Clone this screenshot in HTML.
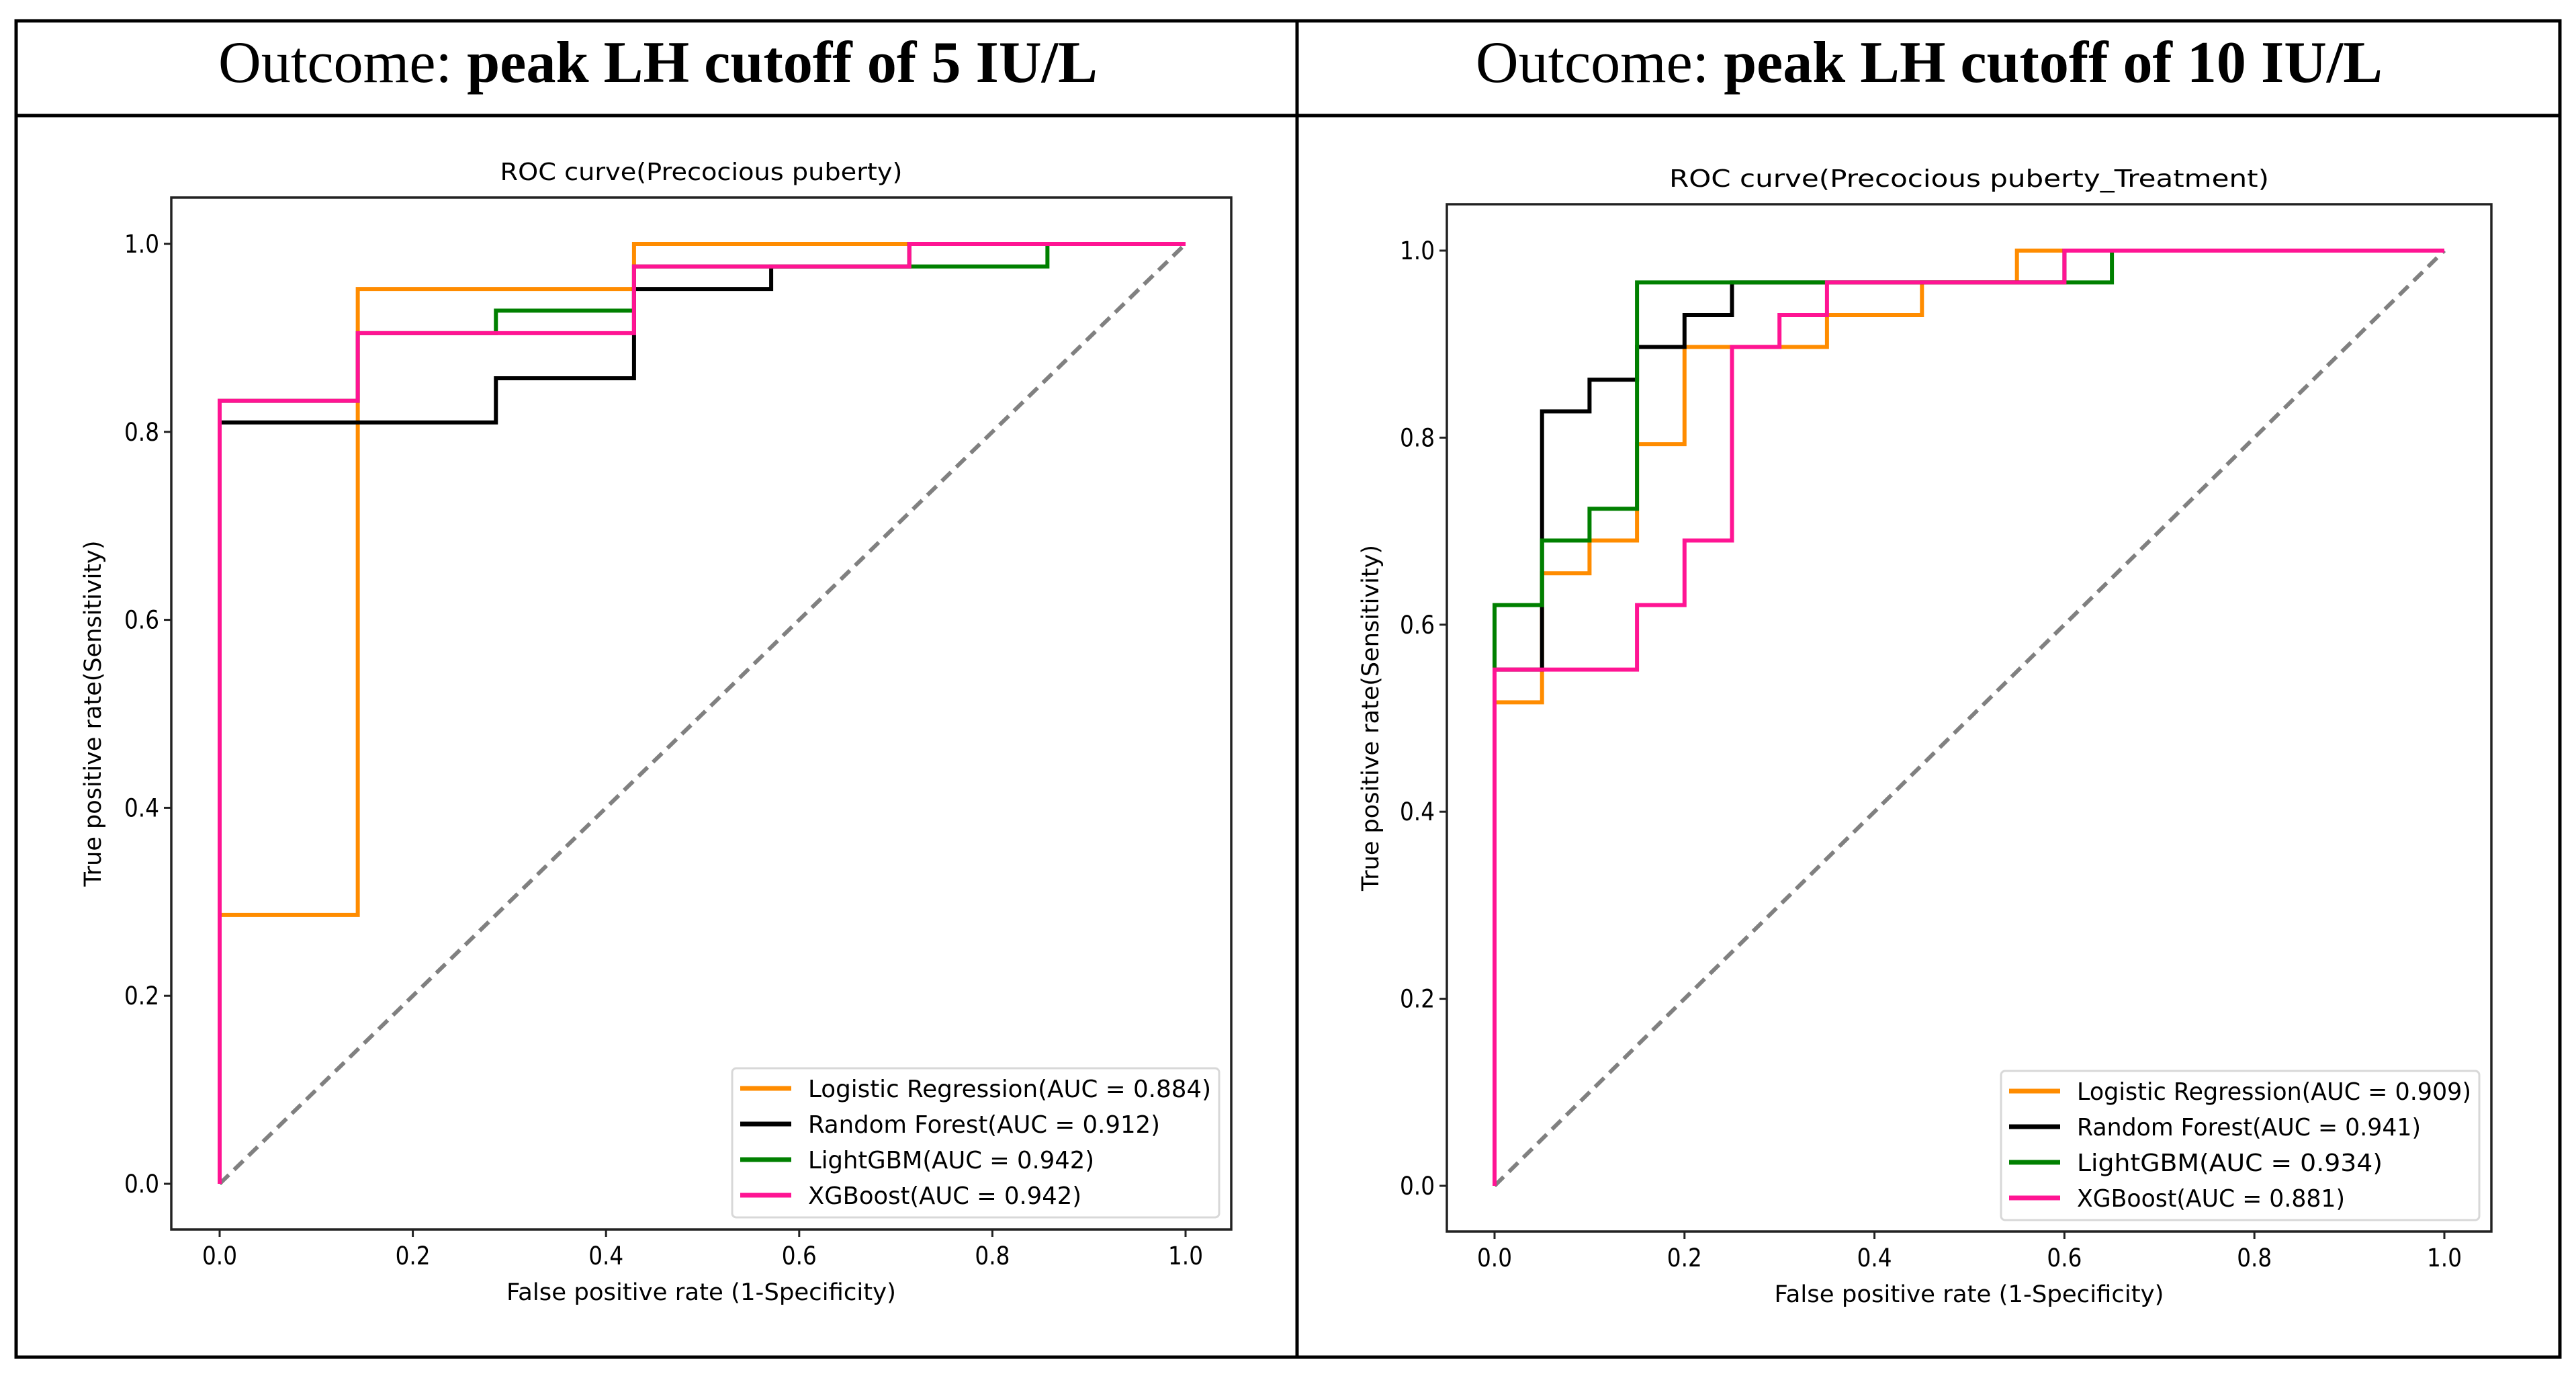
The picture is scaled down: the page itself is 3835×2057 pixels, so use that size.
<!DOCTYPE html>
<html><head><meta charset="utf-8"><style>
html,body{margin:0;padding:0;background:#fff;}
svg{display:block;}
</style></head><body>
<svg id="fig" width="3835" height="2057" viewBox="0 0 3835 2057" xmlns="http://www.w3.org/2000/svg">
<rect x="0" y="0" width="3835" height="2057" fill="#fff"/>
<g stroke="#000" stroke-width="5" fill="none">
<rect x="24" y="31" width="3787" height="1989"/>
<line x1="24" y1="172" x2="3811" y2="172"/>
<line x1="1931" y1="31" x2="1931" y2="2020"/>
</g>
<text x="325" y="122" font-family="Liberation Serif, serif" font-size="88" textLength="1309" lengthAdjust="spacingAndGlyphs">Outcome: <tspan font-weight="bold">peak LH cutoff of 5 IU/L</tspan></text>
<text x="2197" y="122" font-family="Liberation Serif, serif" font-size="88" textLength="1350" lengthAdjust="spacingAndGlyphs">Outcome: <tspan font-weight="bold">peak LH cutoff of 10 IU/L</tspan></text>
<g id="c1"></g>
<g id="c2"></g>
</svg>
<script>
// Left chart data
const leftLRx=[0,0,0.143,0.143,0.429,0.429,1];
const leftLRy=[0,0.286,0.286,0.952,0.952,1,1];
const leftRFx=[0,0,0.286,0.286,0.429,0.429,0.571,0.571,0.714,0.714,1];
const leftRFy=[0,0.81,0.81,0.857,0.857,0.952,0.952,0.976,0.976,1,1];
const leftGBx=[0,0,0.143,0.143,0.286,0.286,0.429,0.429,0.857,0.857,1];
const leftGBy=[0,0.833,0.833,0.905,0.905,0.929,0.929,0.976,0.976,1,1];
const leftXGx=[0,0,0.143,0.143,0.429,0.429,0.714,0.714,1];
const leftXGy=[0,0.833,0.833,0.905,0.905,0.976,0.976,1,1];
const leftLabels=["Logistic Regression(AUC = 0.884)","Random Forest(AUC = 0.912)","LightGBM(AUC = 0.942)","XGBoost(AUC = 0.942)"];
// Right chart data
const rightLRx=[0,0,0.05,0.05,0.1,0.1,0.15,0.15,0.2,0.2,0.35,0.35,0.45,0.45,0.55,0.55,1];
const rightLRy=[0,0.517,0.517,0.655,0.655,0.69,0.69,0.793,0.793,0.897,0.897,0.931,0.931,0.966,0.966,1,1];
const rightRFx=[0,0,0.05,0.05,0.1,0.1,0.15,0.15,0.2,0.2,0.25,0.25,0.6,0.6,1];
const rightRFy=[0,0.552,0.552,0.828,0.828,0.862,0.862,0.897,0.897,0.931,0.931,0.966,0.966,1,1];
const rightGBx=[0,0,0.05,0.05,0.1,0.1,0.15,0.15,0.65,0.65,1];
const rightGBy=[0,0.621,0.621,0.69,0.69,0.724,0.724,0.966,0.966,1,1];
const rightXGx=[0,0,0.15,0.15,0.2,0.2,0.25,0.25,0.3,0.3,0.35,0.35,0.6,0.6,1];
const rightXGy=[0,0.552,0.552,0.621,0.621,0.69,0.69,0.897,0.897,0.931,0.931,0.966,0.966,1,1];
const rightLabels=["Logistic Regression(AUC = 0.909)","Random Forest(AUC = 0.941)","LightGBM(AUC = 0.934)","XGBoost(AUC = 0.881)"];
const tickVals=[0,0.2,0.4,0.6,0.8,1.0];
const tickLabels=["0.0","0.2","0.4","0.6","0.8","1.0"];
const colors=["#ff8c00","#000000","#008000","#ff1493"];
const NS="http://www.w3.org/2000/svg";
function mk(p,t,a){const e=document.createElementNS(NS,t);for(const k in a)e.setAttribute(k,a[k]);p.appendChild(e);return e;}
function draw(g,cfg){
  const X=v=>cfg.x0+(cfg.x1-cfg.x0)*v, Y=v=>cfg.y0+(cfg.y1-cfg.y0)*v;
  const F="DejaVu Sans, Liberation Sans, sans-serif";
  const t=mk(g,'text',{x:(cfg.L+cfg.R)/2,y:cfg.titleY,'text-anchor':'middle','font-family':F,'font-size':36,textLength:cfg.titleW,lengthAdjust:'spacingAndGlyphs'});
  
  
  t.textContent=cfg.title;
  const d=mk(g,'line',{x1:X(0),y1:Y(0),x2:X(1),y2:Y(1),stroke:'#808080','stroke-width':6,'stroke-dasharray':'19,11'});
  
  
  cfg.series.forEach((s,i)=>{
    const pts=s[0].map((v,j)=>X(v)+','+Y(s[1][j])).join(' ');
    const p=mk(g,'polyline',{points:pts,fill:'none',stroke:colors[i],'stroke-width':6,'stroke-linejoin':'miter'});
    
    
  });
  const fr=mk(g,'rect',{x:cfg.L,y:cfg.T,width:cfg.R-cfg.L,height:cfg.B-cfg.T,fill:'none',stroke:'#222','stroke-width':3.5});
  
  
  tickVals.forEach((v,i)=>{
    mk(g,'line',{x1:X(v),y1:cfg.B,x2:X(v),y2:cfg.B+11,stroke:'#222','stroke-width':3});
    const tx=mk(g,'text',{x:X(v),y:cfg.B+52,'text-anchor':'middle','font-family':F,'font-size':37,textLength:52,lengthAdjust:'spacingAndGlyphs'});
    
    
    tx.textContent=tickLabels[i];
    mk(g,'line',{x1:cfg.L,y1:Y(v),x2:cfg.L-11,y2:Y(v),stroke:'#222','stroke-width':3});
    const ty=mk(g,'text',{x:cfg.L-18,y:Y(v)+13,'text-anchor':'end','font-family':F,'font-size':37,textLength:52,lengthAdjust:'spacingAndGlyphs'});
    
    
    ty.textContent=tickLabels[i];
  });
  const xl=mk(g,'text',{x:(cfg.L+cfg.R)/2,y:cfg.xlY,'text-anchor':'middle','font-family':F,'font-size':35,textLength:580,lengthAdjust:'spacingAndGlyphs'});
  
  
  xl.textContent='False positive rate (1-Specificity)';
  const yl=mk(g,'text',{x:0,y:0,'text-anchor':'middle','font-family':F,'font-size':35,textLength:515,lengthAdjust:'spacingAndGlyphs',transform:`translate(${cfg.ylX},${(cfg.T+cfg.B)/2}) rotate(-90)`});
  
  
  yl.textContent='True positive rate(Sensitivity)';
  const lg=mk(g,'rect',{x:cfg.lgx,y:cfg.lgy,width:cfg.lgw,height:222,rx:6,fill:'#fff','fill-opacity':0.9,stroke:'#d8d8d8','stroke-width':3});
  
  
  cfg.labels.forEach((lab,i)=>{
    const yy=cfg.lgy+30+i*53;
    mk(g,'line',{x1:cfg.lgx+12,y1:yy,x2:cfg.lgx+88,y2:yy,stroke:colors[i],'stroke-width':7});
    const lt=mk(g,'text',{x:cfg.lgx+113,y:yy+13,'font-family':F,'font-size':36,textLength:cfg.lw[i],lengthAdjust:'spacingAndGlyphs'});
    
    
    lt.textContent=lab;
  });
}
draw(document.getElementById('c1'),{L:255,R:1833,T:294,B:1830,x0:327,x1:1765,y0:1762,y1:363,
 title:'ROC curve(Precocious puberty)',titleY:268,titleW:599,xlY:1935,ylX:150,
 lgx:1090,lgy:1590,lgw:725,lw:[600,524,426,407],labels:leftLabels,
 series:[[leftLRx,leftLRy],[leftRFx,leftRFy],[leftGBx,leftGBy],[leftXGx,leftXGy]]});
draw(document.getElementById('c2'),{L:2154,R:3709,T:304,B:1833,x0:2225,x1:3639,y0:1765,y1:373,
 title:'ROC curve(Precocious puberty_Treatment)',titleY:278,titleW:893,xlY:1938,ylX:2052,
 lgx:2979,lgy:1594,lgw:712,lw:[587,512,455,399],labels:rightLabels,
 series:[[rightLRx,rightLRy],[rightRFx,rightRFy],[rightGBx,rightGBy],[rightXGx,rightXGy]]});
</script>
</body></html>
